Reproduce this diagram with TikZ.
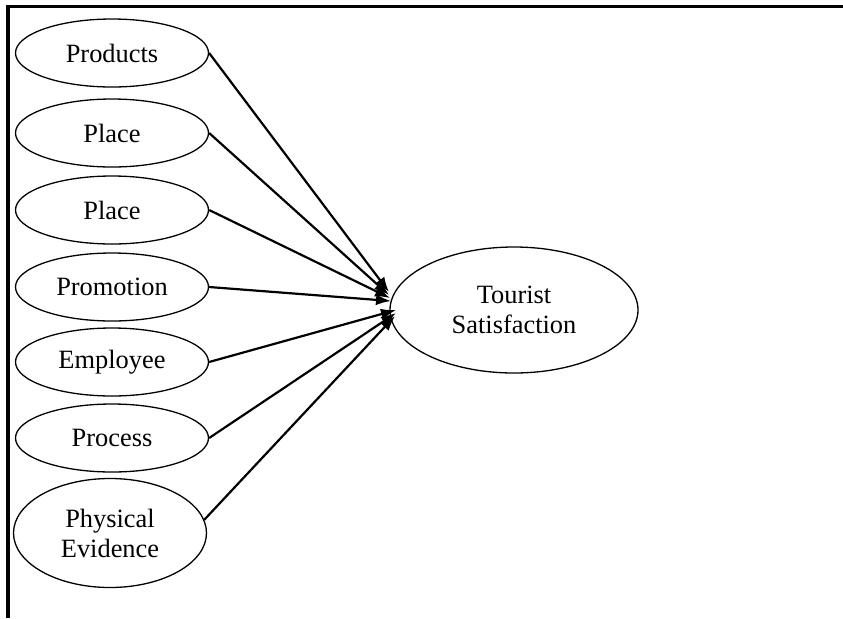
\documentclass[tikz,border=0pt]{standalone}
\usepackage{fontspec}
\setmainfont{Liberation Serif}
\usetikzlibrary{shapes.geometric,arrows.meta}

\begin{document}
\begin{tikzpicture}[x=0.5pt, y=-0.5pt, >={Latex[length=7.5pt,width=5.5pt]},
  factor/.style={draw, ellipse, line width=0.65pt, inner sep=0pt,
    minimum width=96.5pt, minimum height=34pt, align=center,
    font=\fontsize{13.2}{15}\selectfont},
  link/.style={->, line width=1.1pt}]

\useasboundingbox (0,0) rectangle (843,618);

% frame
\draw [line width=1.5pt] (8,618) -- (8,6) -- (843,6);

\foreach \l/\y [count=\i] in {Products/53, Place/133, Place/210, Promotion/287, Employee/362, Process/438}
  \node [factor] (factor-\i) at (112,\y) {\l};

\node [factor, minimum height=54.5pt] (factor-7) at (110,533) {Physical\\Evidence};

\node [factor, minimum width=124pt, minimum height=63pt] (tourist) at (514,310)
  {Tourist\\Satisfaction};

\foreach \x/\y [count=\i] in {389/292, 389/295, 390/298, 391/301, 396/310, 396/313, 395/316}
  \coordinate (tip-\i) at (\x,\y);

\foreach \a [count=\i] in {east,east,east,east,east,east,8}
  \draw [link] (factor-\i.\a) -- (tip-\i);

\end{tikzpicture}
\end{document}
